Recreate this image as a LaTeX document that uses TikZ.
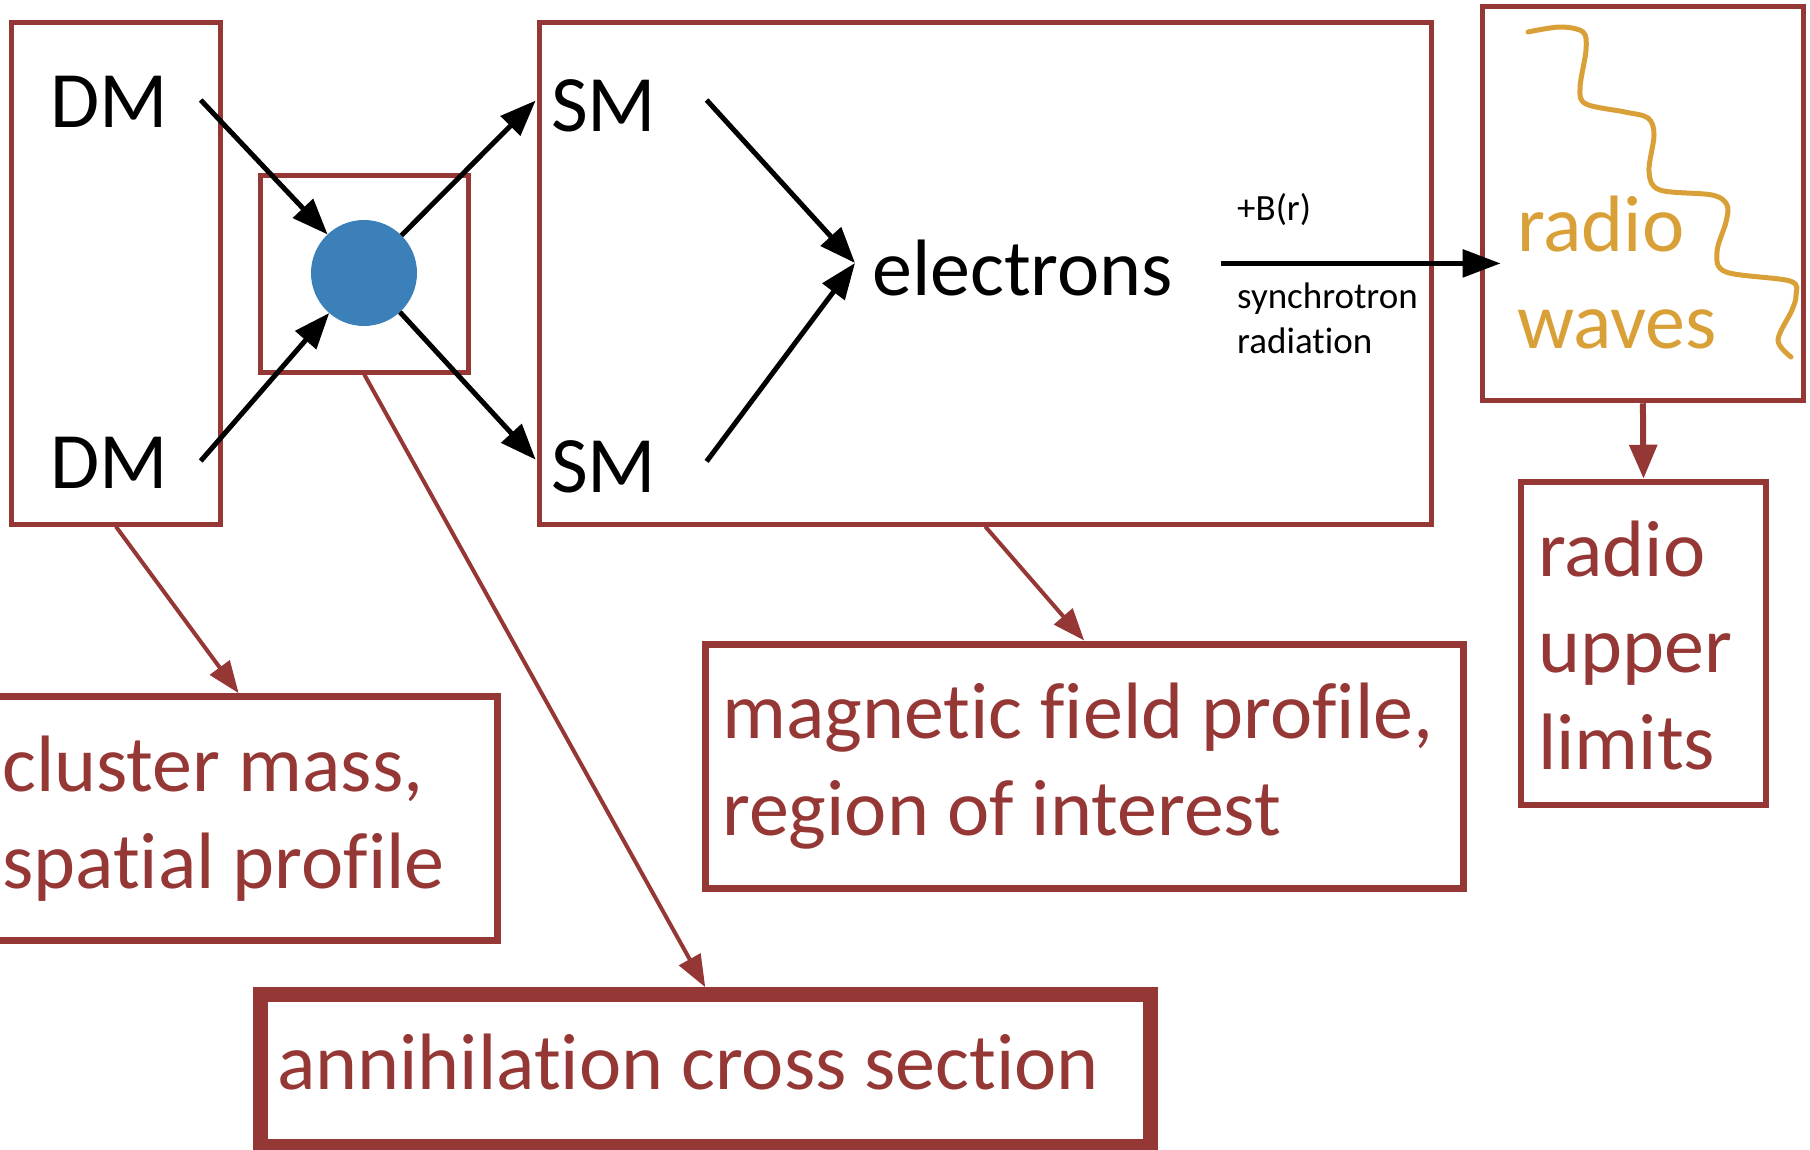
\documentclass[tikz,border=0pt]{standalone}
\usepackage{fontspec}
\setmainfont{Carlito}[Ligatures={NoCommon,NoRare,NoContextual}]
\usetikzlibrary{arrows.meta}
\definecolor{dred}{RGB}{149,55,53}
\definecolor{dblue}{RGB}{60,128,186}
\definecolor{gold}{RGB}{218,160,56}
\begin{document}
\begin{tikzpicture}[x=1pt,y=-1pt,
  box/.style={draw=dred, line width=#1, rectangle, inner sep=0pt},
  big/.style={inner sep=0pt, font=\fontsize{80}{96.5}\selectfont, align=left},
  small/.style={inner sep=0pt, font=\fontsize{37}{45}\selectfont, align=left},
  barrow/.style={draw=black, line width=5pt, -{Triangle[length=36pt,width=27pt]}},
  rarrow/.style={draw=dred, line width=4pt, -{Triangle[length=32pt,width=24pt]}}]
\useasboundingbox (0,0) rectangle (1810,1149);
% boxes
\node[box=5pt, minimum width=208.2pt, minimum height=501.3pt] (dmbox) at (115.9,273.35) {};
\node[box=5pt, minimum width=208.6pt, minimum height=197pt] (vbox) at (364.3,273.5) {};
\node[box=5pt, minimum width=891.5pt, minimum height=501.3pt] (smbox) at (985.25,273.35) {};
\node[box=5.5pt, minimum width=320.8pt, minimum height=393.8pt] (rwbox) at (1642.9,203.6) {};
\node[box=6.5pt, minimum width=245pt, minimum height=323pt] (uplbox) at (1643.5,643.5) {};
\node[box=7pt, minimum width=517.3pt, minimum height=244.1pt] (clbox) at (238.65,818.75) {};
\node[box=7pt, minimum width=757.6pt, minimum height=244.5pt] (mgbox) at (1084.2,766.25) {};
\node[box=15pt, minimum width=889.5pt, minimum height=151.3pt] (anbox) at (705.25,1070.35) {};
% vertex
\node[circle, fill=dblue, minimum size=106pt, inner sep=0pt, outer sep=0pt] (vtx) at (364,273) {};
% texts (multi-line nodes: base = last line)
\node[big, anchor=base west] (dm1) at (50,127) {DM};
\node[big, anchor=base west] (dm2) at (50,488) {DM};
\node[big, anchor=base west] (sm1) at (551,131.5) {SM};
\node[big, anchor=base west] (sm2) at (551,492.4) {SM};
\node[big, anchor=base west] (el) at (872,295) {electrons};
\node[big, anchor=base west, text=gold] (rw) at (1517,348.3) {radio\\waves};
\node[big, anchor=base west, text=dred] (upl) at (1538,769) {radio\\upper\\limits};
\node[big, anchor=base west, text=dred] (cl) at (2,888.3) {cluster mass,\\spatial profile};
\node[big, anchor=base west, text=dred] (mg) at (722,835) {magnetic field profile,\\region of interest};
\node[big, anchor=base west, text=dred] (an) at (277,1089) {annihilation cross section};
\node[small, anchor=base west] (bl) at (1237,220) {+B(r)};
\node[small, anchor=base west] (sl) at (1237,353) {synchrotron\\radiation};
% coordinates
\coordinate (dmin1) at (200.7,100);
\coordinate (dmin2) at (200.7,461);
\coordinate (smout1) at (535.7,100.5);
\coordinate (smout2) at (535.7,459.7);
\coordinate (smst1) at (706.6,100);
\coordinate (smst2) at (706.6,461.4);
\coordinate (etip) at (855,263);
\coordinate (eout) at (1221,263.4);
\coordinate (rwin) at (1500.7,263.4);
% black arrows
\draw[barrow] (dmin1) -- (vtx);
\draw[barrow] (dmin2) -- (vtx);
\draw[barrow] (vtx) -- (smout1);
\draw[barrow] (vtx) -- (smout2);
\draw[barrow] (smst1) -- (etip);
\draw[barrow] (smst2) -- (etip);
\draw[draw=black, line width=5.5pt, -{Triangle[length=38pt,width=27pt]}] (eout) -- (rwin);
% red arrows
\draw[rarrow] (dmbox.south) -- (clbox.north);
\draw[rarrow] (vbox.south) -- (anbox.north);
\draw[rarrow] (smbox.south) -- (mgbox.north);
\draw[draw=dred, line width=6pt, -{Triangle[length=34pt,width=27pt]}] (rwbox.south) -- (uplbox.north);
% wave
\draw[gold, line width=5pt, line cap=round] plot[smooth, tension=0.55] coordinates {(1528,32) (1560,27) (1583,32) (1586,50) (1580,88) (1586,104) (1625,112) (1648,118) (1654,135) (1649,172) (1660,190) (1712,195) (1727,205) (1726,222) (1717,252) (1726,272) (1790,281) (1796,295) (1792,310) (1778,340) (1791,357)};
\end{tikzpicture}
\end{document}
